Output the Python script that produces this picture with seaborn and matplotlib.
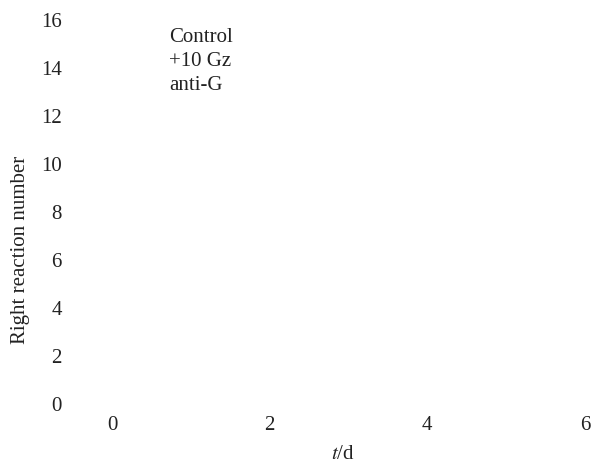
import matplotlib
matplotlib.use("Agg")
import matplotlib.pyplot as plt
from matplotlib.lines import Line2D
import seaborn as sns
import pandas as pd

# Data (the reference shows no data marks, only axes text and legend labels)
series_names = ["Control", "+10 Gz", "anti-G"]
x_ticks = [0, 2, 4, 6]
y_ticks = [0, 2, 4, 6, 8, 10, 12, 14, 16]
days = []
values = []
groups = []

sns.set_theme(style="white")
plt.rcParams["font.family"] = ["Liberation Serif", "DejaVu Serif"]
plt.rcParams["mathtext.fontset"] = "stix"

fig = plt.figure(figsize=(5.92, 4.64), dpi=100)
W, H = 592, 464
left, right, top, bottom = 112, 585, 20, 404
ax = fig.add_axes([left / W, 1 - bottom / H, (right - left) / W, (bottom - top) / H])

df = pd.DataFrame({"t": pd.Series(days, dtype=float),
                   "value": pd.Series(values, dtype=float),
                   "group": pd.Series(groups, dtype=object)})
if len(df):
    sns.lineplot(data=df, x="t", y="value", hue="group", ax=ax, legend=False)

ax.set_xlim(0, 6)
ax.set_ylim(0, 16)
ax.set_xticks(x_ticks)
ax.set_yticks(y_ticks)
ax.tick_params(axis="both", length=0, labelsize=15, colors="#222222")
ax.tick_params(axis="y", pad=36)
ax.tick_params(axis="x", pad=9)
for s in ax.spines.values():
    s.set_visible(False)
ax.grid(False)

ax.set_xlabel("$t$/d", fontsize=15, color="#222222")
ax.set_ylabel("Right reaction number", fontsize=15, color="#222222")
ax.xaxis.set_label_coords(0.488, -0.106)
ax.yaxis.set_label_coords(-0.173, 0.402)

handles = [Line2D([], [], linestyle="none", marker=None) for _ in series_names]
leg = ax.legend(handles, series_names, loc="upper left",
                bbox_to_anchor=(169 / W, 1 - 27 / H), bbox_transform=fig.transFigure,
                frameon=False, handlelength=0, handletextpad=0, borderpad=0,
                borderaxespad=0, labelspacing=0.22, fontsize=15)
for t in leg.get_texts():
    t.set_color("#222222")

fig.savefig("out.png", dpi=100)
